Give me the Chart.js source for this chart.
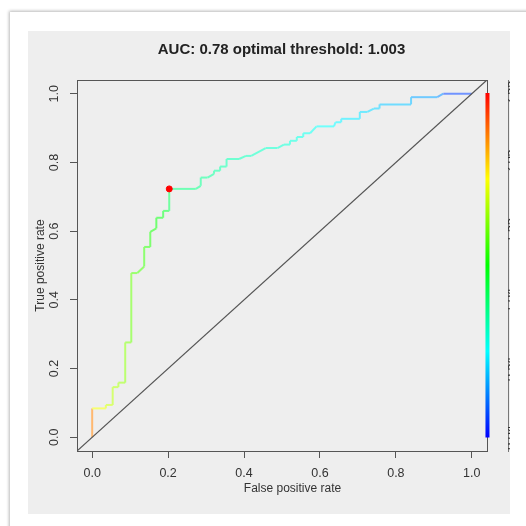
<!DOCTYPE html>
<html>
<head>
<meta charset="utf-8">
<script src="https://cdn.jsdelivr.net/npm/chart.js@4"></script>
<style>
  html, body { margin: 0; padding: 0; background: #fff; overflow: hidden; }
  body { width: 526px; height: 526px; position: relative; }
  .card { position: absolute; left: 10px; top: 12px; width: 530px; height: 530px; background: #fff;
          box-shadow: 0 0 3px 1px rgba(0,0,0,0.28); }
  .panel { position: absolute; left: 28px; top: 31px; width: 482px; height: 483px; background: #eeeeee; overflow: hidden; }
  canvas { position: absolute; left: 0; top: 0; }
</style>
</head>
<body>
<div class="card"></div>
<div class="panel"><canvas id="roc" width="507" height="483"></canvas></div>
<script>
// ROC curve
const fpr = [0, 0, 0.036, 0.036, 0.054, 0.054, 0.069, 0.069, 0.087, 0.087, 0.103, 0.103, 0.119, 0.137, 0.137,
  0.153, 0.153, 0.169, 0.169, 0.187, 0.187, 0.203, 0.203, 0.273, 0.286, 0.286, 0.304, 0.321, 0.321, 0.337,
  0.337, 0.354, 0.354, 0.387, 0.405, 0.419, 0.457, 0.488, 0.505, 0.521, 0.521, 0.539, 0.539, 0.556, 0.556,
  0.574, 0.591, 0.637, 0.641, 0.656, 0.656, 0.705, 0.705, 0.725, 0.742, 0.757, 0.757, 0.840, 0.840, 0.909,
  0.925, 1.0];
const tpr = [0, 0.084, 0.084, 0.094, 0.094, 0.146, 0.146, 0.159, 0.159, 0.276, 0.276, 0.478, 0.478, 0.497, 0.554,
  0.554, 0.598, 0.608, 0.639, 0.639, 0.659, 0.659, 0.723, 0.723, 0.732, 0.756, 0.756, 0.767, 0.776, 0.776,
  0.788, 0.788, 0.810, 0.810, 0.819, 0.819, 0.842, 0.842, 0.852, 0.852, 0.863, 0.863, 0.874, 0.874, 0.885,
  0.885, 0.905, 0.905, 0.917, 0.917, 0.927, 0.927, 0.947, 0.947, 0.957, 0.957, 0.969, 0.969, 0.990, 0.990,
  1.0, 1.0];
const cutoffs = [2.55, 1.92, 1.85, 1.80, 1.76, 1.72, 1.70, 1.68, 1.65, 1.60, 1.57, 1.50, 1.47, 1.44, 1.40,
  1.37, 1.34, 1.31, 1.28, 1.25, 1.22, 1.18, 1.003, 0.98, 0.96, 0.95, 0.94, 0.93, 0.92, 0.91,
  0.90, 0.89, 0.88, 0.86, 0.85, 0.84, 0.82, 0.80, 0.79, 0.78, 0.77, 0.76, 0.75, 0.74, 0.73,
  0.72, 0.70, 0.66, 0.65, 0.63, 0.62, 0.60, 0.58, 0.57, 0.55, 0.54, 0.53, 0.50, 0.47, 0.40,
  0.35, 0.04];

const optFpr = [0.203];
const optTpr = [0.723];

const axisLimits = [-0.04, 1.04];
const rateTicks = [0, 0.2, 0.4, 0.6, 0.8, 1.0];
const cutoffRange = [0.04, 2.55];
const keyTicks = [0.04, 0.54, 1.04, 1.55, 2.05, 2.55];

const titleText = 'AUC: 0.78 optimal threshold: 1.003';

function hueFor(c) {
  let t = (c - cutoffRange[0]) / (cutoffRange[1] - cutoffRange[0]);
  t = Math.max(0, Math.min(1, t));
  return 240 * (1 - t);
}

const boxPlugin = {
  id: 'box',
  afterDatasetsDraw(chart) {
    const { ctx, scales: { x, y, yc } } = chart;
    const l = x.getPixelForValue(axisLimits[0]), r = x.getPixelForValue(axisLimits[1]);
    const t = y.getPixelForValue(axisLimits[1]), b = y.getPixelForValue(axisLimits[0]);
    ctx.save();
    ctx.strokeStyle = '#555';
    ctx.lineWidth = 1;
    ctx.strokeRect(Math.round(l) + 0.5, Math.round(t) + 0.5, Math.round(r - l), Math.round(b - t));
    // colour key
    const top = yc.getPixelForValue(cutoffRange[1]);
    const bottom = yc.getPixelForValue(cutoffRange[0]);
    const g = ctx.createLinearGradient(0, top, 0, bottom);
    [0, 60, 120, 180, 240].forEach((h, i) => g.addColorStop(i / 4, `hsl(${h},100%,50%)`));
    ctx.fillStyle = g;
    ctx.fillRect(r - 1.5, top, 4, bottom - top);
    ctx.restore();
  }
};

Chart.defaults.font.family = "'Liberation Sans', Arial, sans-serif";
Chart.defaults.color = '#333';

const ctx = document.getElementById('roc').getContext('2d');
new Chart(ctx, {
  type: 'line',
  data: {
    datasets: [
      {
        label: 'ROC',
        data: fpr.map((v, i) => ({ x: v, y: tpr[i] })),
        borderWidth: 2,
        pointRadius: 0,
        tension: 0,
        segment: {
          borderColor: c => `hsl(${hueFor((cutoffs[c.p0DataIndex] + cutoffs[c.p1DataIndex]) / 2)},100%,72%)`
        },
        order: 3
      },
      {
        label: 'diagonal',
        data: axisLimits.map(v => ({ x: v, y: v })),
        borderColor: '#555',
        borderWidth: 1.2,
        pointRadius: 0,
        order: 2
      },
      {
        label: 'optimal',
        type: 'scatter',
        data: optFpr.map((v, i) => ({ x: v, y: optTpr[i] })),
        backgroundColor: '#ff0000',
        borderColor: '#ff0000',
        pointRadius: 3,
        order: 1
      }
    ]
  },
  options: {
    responsive: false,
    animation: false,
    layout: { padding: 0 },
    plugins: {
      legend: { display: false },
      tooltip: { enabled: false },
      title: {
        display: true,
        text: titleText,
        color: '#222',
        font: { size: 15, weight: 'bold' },
        padding: { top: 10, bottom: 21 }
      }
    },
    scales: {
      x: {
        type: 'linear',
        min: axisLimits[0],
        max: -0.04 + 431 / 379.6,
        afterBuildTicks: s => { s.ticks = rateTicks.map(v => ({ value: v })); },
        afterFit: s => { s.height = 63; },
        grid: { drawOnChartArea: false, drawTicks: true, tickLength: 7, color: '#555' },
        border: { display: false },
        ticks: { font: { size: 12.5 }, color: '#333', padding: 8, maxRotation: 0, autoSkip: false,
                 callback: v => v.toFixed(1) },
        title: { display: true, text: 'False positive rate', font: { size: 12 }, color: '#333',
                 padding: { top: 0, bottom: 18 } }
      },
      y: {
        type: 'linear',
        position: 'left',
        min: axisLimits[0],
        max: axisLimits[1],
        afterBuildTicks: s => { s.ticks = rateTicks.map(v => ({ value: v })); },
        afterFit: s => { s.width = 49; },
        grid: { drawOnChartArea: false, drawTicks: true, tickLength: 7, color: '#555' },
        border: { display: false },
        ticks: { font: { size: 12.5 }, color: '#333', padding: 7, minRotation: 90, maxRotation: 90,
                 crossAlign: 'center', autoSkip: false, callback: v => v.toFixed(1) },
        title: { display: true, text: 'True positive rate', font: { size: 12 }, color: '#333',
                 padding: { top: 5, bottom: 0 } }
      },
      yc: {
        type: 'linear',
        position: 'right',
        min: 0.04 - 13.5 / 137.25,
        max: 2.55 + 13 / 137.25,
        afterBuildTicks: s => { s.ticks = keyTicks.map(v => ({ value: v })); },
        afterFit: s => { s.width = 27; },
        grid: { display: false, drawTicks: false },
        border: { display: true, color: '#777', width: 1 },
        ticks: { font: { size: 12.5 }, color: '#333', padding: -10, minRotation: 90, maxRotation: 90,
                 crossAlign: 'center', autoSkip: false, callback: v => v.toFixed(2) }
      }
    }
  },
  plugins: [boxPlugin]
});
</script>
</body>
</html>
